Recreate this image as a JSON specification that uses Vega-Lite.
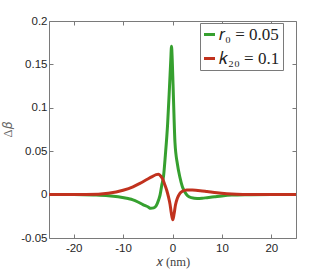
{
  "$schema": "https://vega.github.io/schema/vega-lite/v6.json",
  "autosize": "none",
  "width": 247,
  "height": 217,
  "padding": {"left": 49, "top": 21, "right": 31, "bottom": 35},
  "background": "white",
  "config": {
    "view": {"stroke": null},
    "axis": {
      "grid": false,
      "domainColor": "#7a7a7a",
      "domainWidth": 1,
      "tickColor": "#7a7a7a",
      "tickSize": -4,
      "labelFont": "Liberation Sans",
      "labelFontSize": 11.5,
      "labelColor": "#262626",
      "titleFont": "Liberation Serif",
      "titleFontWeight": "normal",
      "titleFontSize": 12.5,
      "titleColor": "#444444"
    }
  },
  "data": {
    "values": [
      {"x": -25, "v": 0, "s": "g"},
      {"x": -20, "v": 0, "s": "g"},
      {"x": -16, "v": -0.0004, "s": "g"},
      {"x": -13, "v": -0.0012, "s": "g"},
      {"x": -11, "v": -0.0025, "s": "g"},
      {"x": -9, "v": -0.0045, "s": "g"},
      {"x": -8, "v": -0.006, "s": "g"},
      {"x": -7, "v": -0.0085, "s": "g"},
      {"x": -6, "v": -0.0115, "s": "g"},
      {"x": -5, "v": -0.014, "s": "g"},
      {"x": -4.4, "v": -0.0158, "s": "g"},
      {"x": -3.8, "v": -0.0153, "s": "g"},
      {"x": -3.3, "v": -0.0128, "s": "g"},
      {"x": -2.8, "v": -0.006, "s": "g"},
      {"x": -2.5, "v": 0.0, "s": "g"},
      {"x": -2.2, "v": 0.01, "s": "g"},
      {"x": -1.8, "v": 0.022, "s": "g"},
      {"x": -1.45, "v": 0.045, "s": "g"},
      {"x": -1.0, "v": 0.08, "s": "g"},
      {"x": -0.6, "v": 0.125, "s": "g"},
      {"x": -0.35, "v": 0.155, "s": "g"},
      {"x": -0.2, "v": 0.171, "s": "g"},
      {"x": -0.05, "v": 0.155, "s": "g"},
      {"x": 0.2, "v": 0.11, "s": "g"},
      {"x": 0.5, "v": 0.06, "s": "g"},
      {"x": 1.0, "v": 0.035, "s": "g"},
      {"x": 1.5, "v": 0.02, "s": "g"},
      {"x": 2.0, "v": 0.009, "s": "g"},
      {"x": 2.5, "v": 0.003, "s": "g"},
      {"x": 3.0, "v": -0.001, "s": "g"},
      {"x": 3.8, "v": -0.0035, "s": "g"},
      {"x": 5, "v": -0.0045, "s": "g"},
      {"x": 6, "v": -0.0042, "s": "g"},
      {"x": 7, "v": -0.0035, "s": "g"},
      {"x": 8.5, "v": -0.0025, "s": "g"},
      {"x": 10, "v": -0.0015, "s": "g"},
      {"x": 12, "v": -0.0006, "s": "g"},
      {"x": 15, "v": -0.0002, "s": "g"},
      {"x": 20, "v": 0, "s": "g"},
      {"x": 25, "v": 0, "s": "g"},
      {"x": -25, "v": 0, "s": "r"},
      {"x": -20, "v": 0, "s": "r"},
      {"x": -15, "v": 0.0005, "s": "r"},
      {"x": -13, "v": 0.0015, "s": "r"},
      {"x": -10, "v": 0.005, "s": "r"},
      {"x": -8, "v": 0.009, "s": "r"},
      {"x": -6.6, "v": 0.013, "s": "r"},
      {"x": -5, "v": 0.018, "s": "r"},
      {"x": -4, "v": 0.021, "s": "r"},
      {"x": -3.3, "v": 0.023, "s": "r"},
      {"x": -2.87, "v": 0.0235, "s": "r"},
      {"x": -2.4, "v": 0.0215, "s": "r"},
      {"x": -2.0, "v": 0.018, "s": "r"},
      {"x": -1.6, "v": 0.012, "s": "r"},
      {"x": -1.17, "v": 0.005, "s": "r"},
      {"x": -0.8, "v": -0.003, "s": "r"},
      {"x": -0.5, "v": -0.011, "s": "r"},
      {"x": -0.25, "v": -0.021, "s": "r"},
      {"x": 0.05, "v": -0.029, "s": "r"},
      {"x": 0.3, "v": -0.023, "s": "r"},
      {"x": 0.6, "v": -0.012, "s": "r"},
      {"x": 1.0, "v": -0.004, "s": "r"},
      {"x": 1.5, "v": 0.0015, "s": "r"},
      {"x": 2.0, "v": 0.0038, "s": "r"},
      {"x": 2.9, "v": 0.0053, "s": "r"},
      {"x": 4, "v": 0.0052, "s": "r"},
      {"x": 5.6, "v": 0.0045, "s": "r"},
      {"x": 7, "v": 0.0035, "s": "r"},
      {"x": 9, "v": 0.002, "s": "r"},
      {"x": 11, "v": 0.001, "s": "r"},
      {"x": 13, "v": 0.0004, "s": "r"},
      {"x": 16, "v": 0.0001, "s": "r"},
      {"x": 20, "v": 0, "s": "r"},
      {"x": 25, "v": 0, "s": "r"}
    ]
  },
  "resolve": {"axis": {"x": "independent", "y": "independent"}},
  "layer": [
    {
      "mark": {"type": "line", "strokeWidth": 3, "interpolate": "monotone", "clip": true},
      "encoding": {
        "x": {
          "field": "x", "type": "quantitative",
          "scale": {"domain": [-25, 25], "nice": false},
          "axis": {"values": [-20, -10, 0, 10, 20], "title": "𝑥 (nm)", "titlePadding": 2, "labelPadding": 8,
                   "labelExpr": "replace(format(datum.value, 'd'), '−', '-')"}
        },
        "y": {
          "field": "v", "type": "quantitative",
          "scale": {"domain": [-0.05, 0.2], "nice": false, "zero": false},
          "axis": {"values": [-0.05, 0, 0.05, 0.1, 0.15, 0.2], "title": "Δ𝛽", "titlePadding": 6, "labelPadding": 6,
                   "titleColor": "#666666",
                   "labelExpr": "datum.value === 0 ? '0' : replace(format(datum.value, '.2~f'), '−', '-')"}
        },
        "color": {
          "field": "s", "type": "nominal",
          "scale": {"domain": ["g", "r"], "range": ["#36a02f", "#c1321e"]},
          "legend": {
            "orient": "none", "legendX": 151, "legendY": 2,
            "title": null,
            "labelExpr": "datum.value === 'g' ? '𝑟₀ = 0.05' : '𝑘₂₀ = 0.1'",
            "labelFont": "Liberation Serif", "labelFontSize": 17, "labelColor": "#222222",
            "symbolType": "stroke", "symbolStrokeWidth": 3, "symbolSize": 120,
            "strokeColor": "#7a7a7a", "fillColor": "white", "padding": 3, "rowPadding": 6,
            "labelOffset": 1, "symbolOffset": -2
          }
        }
      }
    },
    {
      "mark": {"type": "rule", "opacity": 0},
      "encoding": {
        "x": {"datum": 0, "type": "quantitative",
              "axis": {"orient": "top", "values": [-20, -10, 0, 10, 20], "labels": false, "title": null}},
        "y": {"datum": 0, "type": "quantitative",
              "axis": {"orient": "right", "values": [-0.05, 0, 0.05, 0.1, 0.15, 0.2], "labels": false, "title": null}}
      }
    }
  ]
}
